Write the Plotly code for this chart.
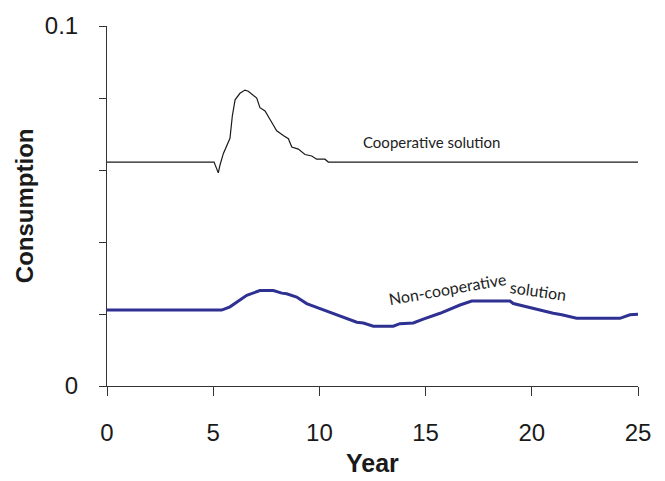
import plotly.graph_objects as go

coop_year = [0, 5.04, 5.24, 5.32, 5.48, 5.79, 5.90, 6.03, 6.26, 6.50, 6.65, 7.05, 7.20, 7.44, 7.67,
             7.99, 8.30, 8.54, 8.70, 9.01, 9.32, 9.64, 9.87, 10.26, 10.42, 25]
coop_value = [0.0622, 0.0622, 0.0592, 0.0614, 0.0646, 0.0688, 0.0750, 0.0795, 0.0813, 0.0822, 0.0819,
              0.0800, 0.0773, 0.0764, 0.0741, 0.0709, 0.0696, 0.0687, 0.0664, 0.0658, 0.0643, 0.0639,
              0.0630, 0.0630, 0.0622, 0.0622]

noncoop_year = [0, 5.40, 5.79, 6.11, 6.58, 7.20, 7.83, 8.23, 8.46, 8.93, 9.40, 10.03, 10.65, 11.29,
                11.76, 12.07, 12.54, 13.48, 13.79, 14.42, 14.89, 15.68, 16.62, 17.17, 18.97, 19.13,
                19.76, 20.54, 21.01, 21.41, 22.11, 24.15, 24.62, 25]
noncoop_value = [0.0211, 0.0211, 0.0220, 0.0234, 0.0252, 0.0265, 0.0265, 0.0258, 0.0256, 0.0247,
                 0.0229, 0.0215, 0.0202, 0.0188, 0.0177, 0.0175, 0.0166, 0.0166, 0.0173, 0.0175,
                 0.0186, 0.0202, 0.0225, 0.0236, 0.0236, 0.0229, 0.0220, 0.0207, 0.0202, 0.0198,
                 0.0188, 0.0188, 0.0198, 0.0199]

x_ticks = [0, 5, 10, 15, 20, 25]
y_ticks = [0, 0.02, 0.04, 0.06, 0.08, 0.1]
y_ticktext = ["0", "", "", "", "", "0.1"]

fig = go.Figure()
fig.add_trace(go.Scatter(x=coop_year, y=coop_value, mode="lines",
                         line=dict(color="#1a1a1a", width=1.2), showlegend=False))
fig.add_trace(go.Scatter(x=noncoop_year, y=noncoop_value, mode="lines",
                         line=dict(color="#2e3192", width=3), showlegend=False))

axis_font = dict(family="Liberation Sans, Arial, sans-serif", size=24, color="#1a1a1a")
fig.update_xaxes(range=[0, 25], tickvals=x_ticks, ticks="outside", ticklen=9, tickwidth=1,
                 tickcolor="#333", showline=True, linecolor="#333", linewidth=1,
                 showgrid=False, zeroline=False, tickfont=axis_font, ticklabelstandoff=16)
fig.update_yaxes(range=[0, 0.1], tickvals=y_ticks, ticktext=y_ticktext, ticks="outside",
                 ticklen=7, tickwidth=1, tickcolor="#333", showline=True, linecolor="#333",
                 linewidth=1, showgrid=False, zeroline=False, tickfont=axis_font,
                 ticklabelstandoff=16)

title_font = dict(family="Liberation Sans, Arial, sans-serif", size=25, color="#1a1a1a")
ann_font = dict(family="Lato, Open Sans, sans-serif", size=15, color="#222")
ann_font2 = dict(family="Lato, Open Sans, sans-serif", size=16, color="#222")
fig.update_layout(
    width=665, height=481,
    margin=dict(l=107, r=27, t=18, b=95),
    paper_bgcolor="white", plot_bgcolor="white",
    annotations=[
        dict(text="<b>Year</b>", xref="paper", yref="paper", x=0.5, y=-0.2147,
             showarrow=False, font=title_font, yanchor="middle"),
        dict(text="<b>Consumption</b>", xref="paper", yref="paper", x=-0.156, y=0.5,
             showarrow=False, font=dict(family="Liberation Sans, Arial, sans-serif", size=24,
                                         color="#1a1a1a"),
             textangle=-90, xanchor="center", yanchor="middle"),
        dict(text="Cooperative solution", x=15.3, y=0.0678, xref="x", yref="y",
             showarrow=False, font=ann_font),
        dict(text="Non-cooperative", x=16.05, y=0.0270, xref="x", yref="y",
             showarrow=False, font=ann_font2, textangle=-10),
        dict(text="solution", x=20.3, y=0.0266, xref="x", yref="y",
             showarrow=False, font=ann_font2, textangle=8),
    ],
)

fig.write_html("out.html")
